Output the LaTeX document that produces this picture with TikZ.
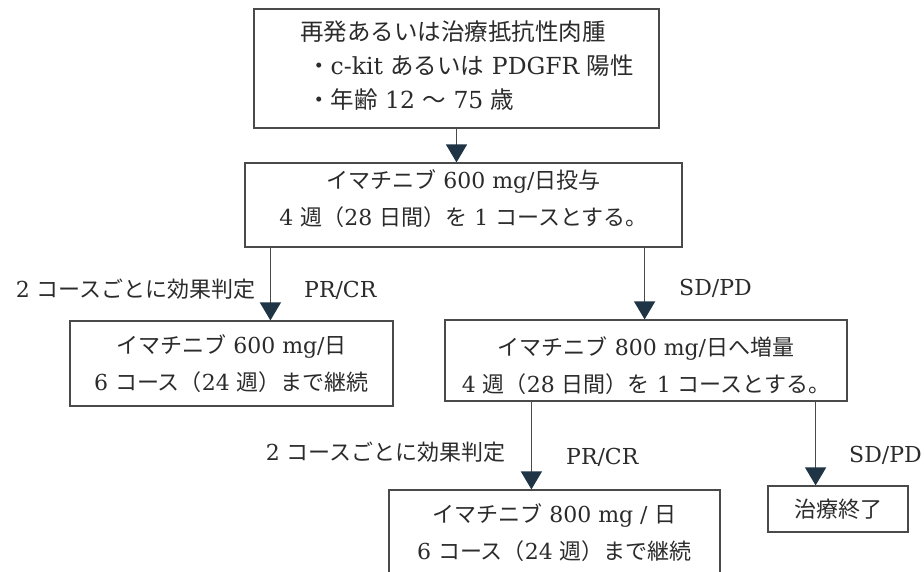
\documentclass[tikz,border=0pt]{standalone}
\usepackage{fontspec}
\setmainfont{DejaVu Serif}
\newfontfamily\cjk{Noto Sans CJK JP}
\usetikzlibrary{arrows.meta,calc}
\definecolor{linec}{HTML}{4A4A4A}
\definecolor{arrowc}{HTML}{1F3445}
\definecolor{textc}{HTML}{2B2B2B}
\tikzset{
  box/.style={draw=linec, line width=1.2pt, inner sep=0pt, align=center, text=textc,
    font=\fontsize{22}{37}\selectfont},
  lbl/.style={inner sep=0pt, text=textc, font=\fontsize{22}{26}\selectfont},
  arr/.style={draw=linec, line width=1.3pt, -{Triangle[width=21pt,length=18pt,color=arrowc,fill=arrowc]}}
}
\begin{document}
\begin{tikzpicture}[x=1pt,y=-1pt]
\clip (0,0) rectangle (924,571);
\fill[white] (0,0) rectangle (924,571);
% boxes
\node[box, minimum width=405pt, minimum height=119pt] (b1) at (456.5,68.5) {};
\node[lbl, anchor=west, align=left, font=\fontsize{23.5}{34}\selectfont] (t1) at (300,66)
  {{\cjk 再発あるいは治療抵抗性肉腫}\\
   \hspace*{7pt}{\cjk ・}c-kit {\cjk あるいは} PDGFR {\cjk 陽性}\\
   \hspace*{7pt}{\cjk ・年齢} 12 {\cjk 〜} 75 {\cjk 歳}};
\node[box, minimum width=437pt, minimum height=84pt] (b2) at (463.5,205)
  {{\cjk イマチニブ} 600 mg/{\cjk 日投与}\\
   4 {\cjk 週（}28 {\cjk 日間）を} 1 {\cjk コースとする。}\rule[-15pt]{0pt}{1pt}};
\node[box, minimum width=323pt, minimum height=85pt] (b3) at (231.5,363.5)
  {{\cjk イマチニブ} 600 mg/{\cjk 日}\\
   6 {\cjk コース（}24 {\cjk 週）まで継続}};
\node[box, minimum width=402pt, minimum height=81pt] (b4) at (646,360.5)
  {\rule{0pt}{29pt}{\cjk イマチニブ} 800 mg/{\cjk 日へ増量}\\
   4 {\cjk 週（}28 {\cjk 日間）を} 1 {\cjk コースとする。}};
\node[box, minimum width=331pt, minimum height=86pt] (b5) at (554.5,533)
  {{\cjk イマチニブ} 800 mg / {\cjk 日}\\
   6 {\cjk コース（}24 {\cjk 週）まで継続}};
\node[box, minimum width=140pt, minimum height=46pt] (b6) at (838,509)
  {{\cjk 治療終了}};
% connectors
\draw[arr] (b1.south) -- (b1.south |- b2.north);
\coordinate (s1) at ([xshift=26pt]b2.south west);
\coordinate (s2) at ([xshift=-38pt]b2.south east);
\coordinate (s3) at ([xshift=87pt]b4.south west);
\coordinate (s4) at ([xshift=-32pt]b4.south east);
\draw[arr] (s1) -- (s1 |- b3.north);
\draw[arr] (s2) -- (s2 |- b4.north);
\draw[arr] (s3) -- (s3 |- b5.north);
\draw[arr] (s4) -- (s4 |- b6.north);
% labels
\node[lbl, anchor=east] (la1) at (256,289) {2 {\cjk コースごとに効果判定}};
\node[lbl, anchor=west] (lb1) at (304,290) {PR/CR};
\node[lbl, anchor=west] (lc1) at (679,288) {SD/PD};
\node[lbl, anchor=east] (la2) at (506,452) {2 {\cjk コースごとに効果判定}};
\node[lbl, anchor=west] (lb2) at (566,457) {PR/CR};
\node[lbl, anchor=west] (lc2) at (849,455) {SD/PD};
\end{tikzpicture}
\end{document}
